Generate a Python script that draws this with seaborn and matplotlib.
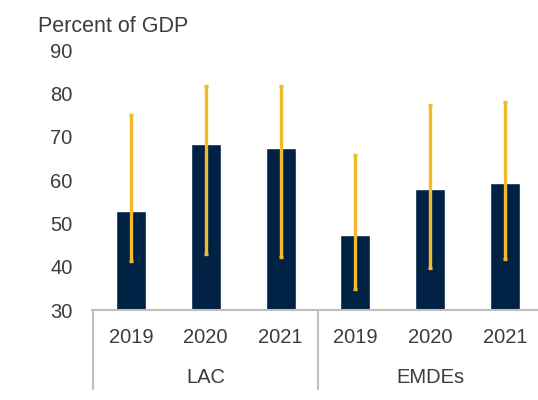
import matplotlib
matplotlib.use("Agg")
import matplotlib.pyplot as plt
import matplotlib.transforms as mtransforms
import numpy as np
import pandas as pd
import seaborn as sns

# Government debt, percent of GDP: average (bars) and interquartile range (whiskers)
groups = ["LAC", "LAC", "LAC", "EMDEs", "EMDEs", "EMDEs"]
years = ["2019", "2020", "2021", "2019", "2020", "2021"]
average = [52.9, 68.3, 67.3, 47.2, 57.9, 59.4]
range_low = [41.2, 42.9, 42.2, 34.8, 39.6, 41.7]
range_high = [75.0, 81.6, 81.6, 65.8, 77.3, 78.1]
group_names = ["LAC", "EMDEs"]

y_ticks = [30, 40, 50, 60, 70, 80, 90]

BAR_COLOR = "#002245"
RANGE_COLOR = "#F2BA2C"
TEXT_COLOR = "#3C3C3C"
LINE_COLOR = "#BFBFBF"

sns.set_theme(style="white")
plt.rcParams["font.family"] = ["Liberation Sans", "DejaVu Sans"]

df = pd.DataFrame({
    "slot": [f"{g} {y}" for g, y in zip(groups, years)],
    "year": years,
    "group": groups,
    "average": average,
    "low": range_low,
    "high": range_high,
})

fig = plt.figure(figsize=(5.38, 4.00), dpi=100)
ax = fig.add_axes([0.171, 0.225, 0.829, 0.65])

sns.barplot(data=df, x="slot", y="average", order=list(df["slot"]),
            color=BAR_COLOR, saturation=1, width=0.4, ax=ax)

xpos = ax.get_xticks()
avg = df["average"].to_numpy()
ax.errorbar(xpos, avg,
            yerr=[avg - df["low"].to_numpy(), df["high"].to_numpy() - avg],
            fmt="none", ecolor=RANGE_COLOR, elinewidth=2.4,
            capsize=1.5, capthick=2.4, zorder=3)

ax.set_ylim(30, 90)
ax.set_yticks(y_ticks)
ax.set_yticklabels([str(t) for t in y_ticks])
ax.set_xlim(-0.52, 5.44)
ax.set_xticks(xpos)
ax.set_xticklabels(df["year"])
ax.set_xlabel("")
ax.set_ylabel("")

ax.tick_params(axis="both", length=0, labelsize=14.5, labelcolor=TEXT_COLOR)
ax.tick_params(axis="y", pad=14)
ax.tick_params(axis="x", pad=13)

for side in ["left", "top", "right"]:
    ax.spines[side].set_visible(False)
ax.spines["bottom"].set_color(LINE_COLOR)
ax.spines["bottom"].set_linewidth(1.5)

# Group dividers under the axis and group names
trans = mtransforms.blended_transform_factory(ax.transData, ax.transAxes)
for xd in [-0.5, 2.5]:
    ax.plot([xd, xd], [0, -0.305], transform=trans, color=LINE_COLOR,
            lw=1.5, clip_on=False)
for i, name in enumerate(group_names):
    center = np.mean(xpos[3 * i:3 * i + 3])
    ax.text(center, -0.258, name, transform=trans, ha="center", va="center",
            fontsize=14.5, color=TEXT_COLOR)

fig.text(38 / 538, 1 - 27 / 400, "Percent of GDP", ha="left", va="center",
         fontsize=15.5, color=TEXT_COLOR)

fig.savefig("out.png", dpi=100)
